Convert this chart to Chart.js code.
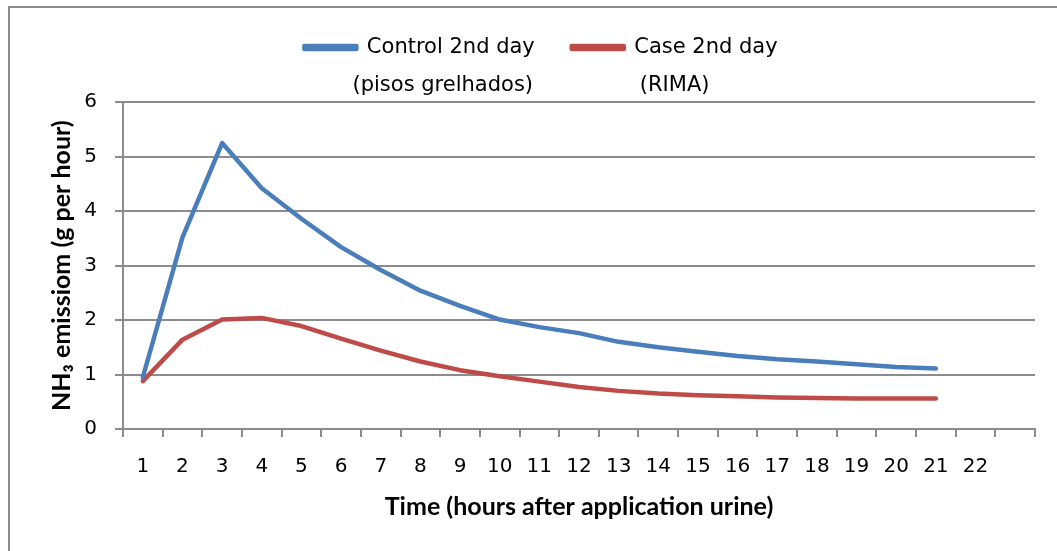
<!DOCTYPE html>
<html>
<head>
<meta charset="utf-8">
<script src="https://cdn.jsdelivr.net/npm/chart.js@4"></script>
<style>
  body { margin: 0; background: #fff; }
  #wrap { position: relative; width: 1057px; height: 551px; overflow: hidden; }
  #frame { position: absolute; left: 8px; top: 6px; width: 1200px; height: 700px; border: 2px solid #8c8c8c; }
  canvas { position: absolute; left: 0; top: 0; }
</style>
</head>
<body>
<div id="wrap">
  <div id="frame"></div>
  <canvas id="nh3Chart" width="1057" height="551"></canvas>
</div>
<script>
// hours after urine application (last slot left empty like the original axis)
const hours = ['1','2','3','4','5','6','7','8','9','10','11','12','13','14','15','16','17','18','19','20','21','22',''];
const controlValues = [0.95, 3.52, 5.25, 4.42, 3.86, 3.34, 2.92, 2.54, 2.26, 2.01, 1.87, 1.76, 1.60, 1.50, 1.42, 1.34, 1.28, 1.24, 1.19, 1.14, 1.11];
const caseValues = [0.88, 1.64, 2.01, 2.04, 1.89, 1.66, 1.44, 1.24, 1.08, 0.97, 0.87, 0.77, 0.70, 0.65, 0.62, 0.60, 0.58, 0.57, 0.56, 0.56, 0.56];
const seriesNames = ['Control 2nd day', 'Case 2nd day'];
const seriesNotes = '(pisos grelhados)                (RIMA)   ';

const gridGrey = '#8c8c8c';

const ctx = document.getElementById('nh3Chart').getContext('2d');
new Chart(ctx, {
    type: 'line',
    data: {
        labels: hours,
        datasets: [{
            label: seriesNames[0],
            data: controlValues,
            borderColor: '#4a7ebb',
            backgroundColor: '#4a7ebb',
            borderWidth: 4.5,
            borderCapStyle: 'round',
            borderJoinStyle: 'round',
            pointRadius: 0,
            tension: 0
        }, {
            label: seriesNames[1],
            data: caseValues,
            borderColor: '#be4b48',
            backgroundColor: '#be4b48',
            borderWidth: 4.5,
            borderCapStyle: 'round',
            borderJoinStyle: 'round',
            pointRadius: 0,
            tension: 0
        }]
    },
    options: {
        responsive: false,
        animation: false,
        layout: { padding: { left: 47, right: 22, top: 0, bottom: 0 } },
        scales: {
            x: {
                offset: true,
                grid: {
                    offset: true,
                    drawOnChartArea: false,
                    color: gridGrey,
                    lineWidth: 2,
                    tickLength: 8
                },
                border: { color: gridGrey, width: 2 },
                ticks: {
                    color: '#000',
                    padding: 18,
                    maxRotation: 0,
                    autoSkip: false,
                    font: { family: 'DejaVu Sans', size: 20 }
                },
                title: {
                    display: true,
                    text: 'Time (hours after application urine)',
                    color: '#000',
                    font: { family: 'Lato', size: 25, weight: 'bold' },
                    padding: { top: 0, bottom: 29 }
                },
                afterFit: function(scale) { scale.height = 122; }
            },
            y: {
                min: 0,
                max: 6,
                grid: { color: gridGrey, lineWidth: 2, tickLength: 8 },
                border: { color: gridGrey, width: 2 },
                ticks: {
                    stepSize: 1,
                    color: '#000',
                    padding: 18,
                    font: { family: 'DejaVu Sans', size: 20 }
                },
                title: {
                    display: true,
                    text: 'NH\u2083 emissiom (g per hour)',
                    color: '#000',
                    font: { family: "Lato, 'DejaVu Sans'", size: 25, weight: 'bold' },
                    padding: { top: 0, bottom: 0 }
                },
                afterFit: function(scale) { scale.width = 76; }
            }
        },
        plugins: {
            legend: {
                position: 'top',
                labels: {
                    color: '#000',
                    boxWidth: 52,
                    boxHeight: 3,
                    padding: 37,
                    font: { family: 'DejaVu Sans', size: 21 }
                }
            },
            subtitle: {
                display: true,
                text: seriesNotes,
                color: '#000',
                weight: 500,
                font: { family: 'DejaVu Sans', size: 21, weight: 'normal' },
                padding: { top: 5, bottom: 4 }
            },
            tooltip: { enabled: false }
        }
    }
});
</script>
</body>
</html>
